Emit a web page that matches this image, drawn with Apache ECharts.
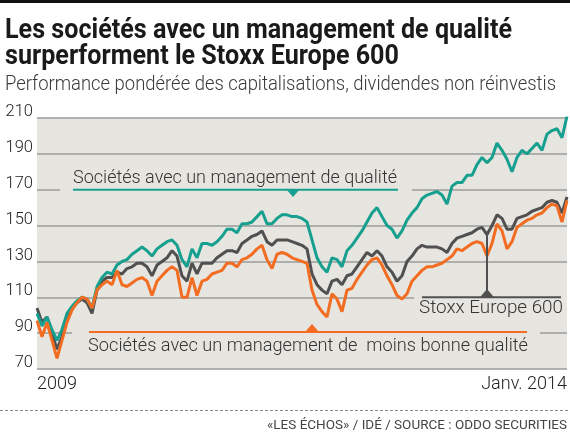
<!DOCTYPE html>
<html>
<head>
<meta charset="utf-8">
<script src="https://cdn.jsdelivr.net/npm/echarts@6/dist/echarts.min.js"></script>
<style>
  html, body { margin: 0; padding: 0; background: #fff; }
  #chart { width: 570px; height: 435px; }
</style>
</head>
<body>
<div id="chart"></div>
<script>
// Indices pondérés, base 100 début 2009
var qualite = [
  101, 94, 99, 92, 86, 92, 101, 105, 108, 110,
  109, 104, 116, 121, 124, 123, 128, 130, 131, 134,
  136, 138, 136, 133, 137, 139, 141, 142, 139, 131,
  127, 137, 132, 140, 140, 139, 141, 144, 148, 148,
  146, 151, 151, 152, 155, 158, 151, 151, 154, 156,
  156, 155, 155, 154, 152, 142, 132, 127, 124, 132,
  131, 127, 136, 139, 143, 147, 152, 157, 160, 155,
  150, 148, 143, 147, 153, 157, 160, 165, 167, 168,
  169, 167, 162, 172, 174, 174, 178, 178, 184, 188,
  185, 188, 196, 192, 187, 180, 188, 192, 190, 193,
  196, 192, 201, 203, 204, 199, 211
];
var stoxx = [
  104, 96, 99, 90, 81, 88, 99, 104, 107, 109,
  107, 101, 114, 119, 121, 121, 124, 123, 126, 127,
  129, 129, 127, 122, 128, 130, 132, 136, 133, 122,
  119, 129, 123, 129, 129, 129, 132, 134, 136, 136,
  135, 140, 142, 144, 145, 147, 141, 139, 142, 142,
  142, 141, 140, 139, 137, 123, 117, 114, 112, 119,
  120, 117, 122, 123, 127, 131, 135, 133, 136, 133,
  127, 124, 119, 122, 130, 133, 137, 139, 138, 138,
  138, 137, 135, 140, 143, 144, 145, 146, 148, 149,
  145, 150, 156, 154, 148, 148, 154, 155, 156, 158,
  159, 160, 163, 164, 163, 157, 166
];
var moinsBonne = [
  97, 88, 96, 86, 76, 86, 96, 103, 107, 110,
  109, 104, 114, 117, 119, 117, 125, 117, 116, 118,
  120, 121, 119, 111, 119, 122, 125, 127, 125, 110,
  110, 121, 111, 119, 120, 123, 124, 125, 129, 129,
  127, 131, 132, 134, 137, 139, 131, 126, 134, 135,
  134, 132, 131, 130, 129, 114, 106, 102, 99, 112,
  109, 102, 114, 115, 120, 124, 128, 131, 132, 128,
  122, 117, 111, 109, 112, 119, 122, 125, 127, 127,
  128, 129, 131, 133, 137, 136, 138, 140, 141, 140,
  133, 140, 151, 147, 137, 141, 149, 151, 153, 154,
  156, 157, 160, 162, 161, 152, 164
];
var xLabels = ['2009', 'Janv. 2014'];
var yMin = 70, yMax = 210, yStep = 20;

// dates régulières de janvier 2009 à janvier 2014
var dates = [];
var t0 = Date.UTC(2009, 0, 2), t1 = Date.UTC(2014, 0, 2);
for (var i = 0; i < qualite.length; i++) {
    var d = new Date(t0 + (t1 - t0) * i / (qualite.length - 1));
    dates.push(d.toISOString().slice(0, 10));
}

var TEAL = '#17a08f', ORANGE = '#f26c22', GREY = '#505050', BG = '#e7e5df';
var FONT = 'Roboto, "Noto Sans", sans-serif';

// mise à l'échelle horizontale pour imiter la police condensée
var ctx = document.createElement('canvas').getContext('2d');
function fit(text, font, width) {
    ctx.font = font;
    return width / ctx.measureText(text).width;
}

var titre1 = 'Les sociétés avec un management de qualité';
var titre2 = 'surperforment le Stoxx Europe 600';
var sousTitre = 'Performance pondérée des capitalisations, dividendes non réinvestis';
var lblQualite = 'Sociétés avec un management de qualité';
var lblMoins = 'Sociétés avec un management de  moins bonne qualité';
var lblStoxx = 'Stoxx Europe 600';
var source = '«LES ÉCHOS» / IDÉ / SOURCE : ODDO SECURITIES';

var fTitre = '700 28px ' + FONT;
var fSous = '300 21px ' + FONT;
var fLbl = '300 19px ' + FONT;
var fSrc = '400 13px ' + FONT;
var sTitre = fit(titre1, fTitre, 507);

function txt(x, y, text, font, fill, scale, align) {
    return {
        type: 'text', x: x, y: y, scaleX: scale, z: 20,
        style: { text: text, font: font, fill: fill, align: align || 'left', verticalAlign: 'middle' }
    };
}
function gap(x1, x2, y) {
    return { type: 'rect', z: 10, shape: { x: x1, y: y - 3.5, width: x2 - x1, height: 7 }, style: { fill: BG } };
}
function hline(x1, x2, y, color) {
    return { type: 'line', z: 11, shape: { x1: x1, y1: y, x2: x2, y2: y }, style: { stroke: color, lineWidth: 2 } };
}

var chartDom = document.getElementById('chart');
var myChart = echarts.init(chartDom);
var option = {
    backgroundColor: '#fff',
    animation: false,
    grid: { left: 37, right: 3, top: 118, bottom: 66, show: true, backgroundColor: BG, borderWidth: 0 },
    xAxis: {
        type: 'category',
        data: dates,
        boundaryGap: false,
        axisLine: { show: false },
        axisTick: { show: false },
        splitLine: { show: false },
        axisLabel: {
            interval: function (idx) { return idx === 0 || idx === dates.length - 1; },
            formatter: function (v, idx) { return idx === 0 ? xLabels[0] : xLabels[1]; },
            alignMinLabel: 'left',
            alignMaxLabel: 'right',
            margin: 6,
            fontFamily: FONT,
            fontWeight: 300,
            fontSize: 18,
            lineHeight: 18,
            color: '#222'
        }
    },
    yAxis: {
        type: 'value',
        min: yMin,
        max: yMax,
        interval: yStep,
        axisLine: { show: false },
        axisTick: { show: false },
        splitLine: { lineStyle: { color: '#9b9b9b', width: 1.5 } },
        axisLabel: {
            margin: 4,
            verticalAlign: 'bottom',
            lineHeight: 12,
            fontFamily: FONT,
            fontWeight: 300,
            fontSize: 16.5,
            color: '#222'
        }
    },
    series: [
        { name: 'Stoxx Europe 600', type: 'line', data: stoxx, symbol: 'none', lineStyle: { color: GREY, width: 3 } },
        { name: 'Qualité', type: 'line', data: qualite, symbol: 'none', lineStyle: { color: TEAL, width: 3 } },
        { name: 'Moins bonne qualité', type: 'line', data: moinsBonne, symbol: 'none', lineStyle: { color: ORANGE, width: 3 } }
    ],
    graphic: [
        { type: 'rect', z: 20, shape: { x: 0, y: 0, width: 570, height: 3 }, style: { fill: '#111' } },
        txt(5, 31, titre1, fTitre, '#1a1a1a', sTitre),
        txt(5, 57, titre2, fTitre, '#1a1a1a', sTitre),
        txt(5, 85, sousTitre, fSous, '#3a3a3a', fit(sousTitre, fSous, 551)),

        // légende "qualité"
        gap(60, 412, 189.7),
        hline(73, 398, 189.7, TEAL),
        { type: 'polygon', z: 12, shape: { points: [[286, 189], [300, 189], [293, 197]] }, style: { fill: TEAL } },
        txt(73, 178, lblQualite, fLbl, '#333', fit(lblQualite, fLbl, 324)),

        // légende "moins bonne qualité"
        gap(72, 540, 333.2),
        hline(89, 527, 332, ORANGE),
        { type: 'polygon', z: 12, shape: { points: [[305, 332], [319, 332], [312, 324]] }, style: { fill: ORANGE } },
        txt(88, 346, lblMoins, fLbl, '#333', fit(lblMoins, fLbl, 440)),

        // légende Stoxx
        gap(414, 567, 297.3),
        hline(422, 561, 297.3, GREY),
        { type: 'line', z: 11, shape: { x1: 487, y1: 235, x2: 487, y2: 297 }, style: { stroke: GREY, lineWidth: 2 } },
        { type: 'polygon', z: 12, shape: { points: [[480, 297.3], [494, 297.3], [487, 289]] }, style: { fill: GREY } },
        txt(419, 308.5, lblStoxx, fLbl, '#333', fit(lblStoxx, fLbl, 144)),

        // pied
        { type: 'line', z: 10, shape: { x1: 0, y1: 410.5, x2: 570, y2: 410.5 }, style: { stroke: '#888', lineWidth: 1, lineDash: [3, 2] } },
        txt(567, 426, source, fSrc, '#444', fit(source, fSrc, 300), 'right')
    ]
};

option && myChart.setOption(option);
</script>
</body>
</html>
